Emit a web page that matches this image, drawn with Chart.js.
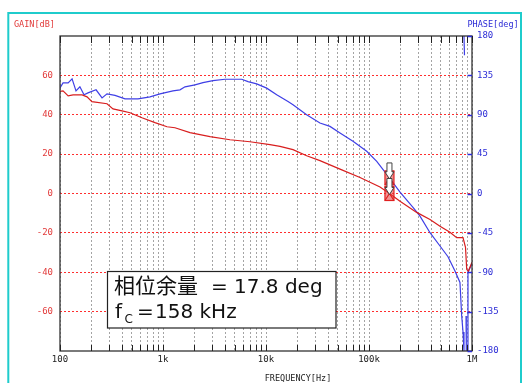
<!DOCTYPE html>
<html>
<head>
<meta charset="utf-8">
<script src="https://cdn.jsdelivr.net/npm/chart.js@4.4.1/dist/chart.umd.min.js"></script>
<style>
  html, body { margin: 0; padding: 0; background: #fff; }
  #wrap { width: 523px; height: 383px; position: relative; }
</style>
</head>
<body>
<div id="wrap"><canvas id="c" width="523" height="383"></canvas></div>
<script>
// Loop gain measurement (Bode plot): gain in dB, phase in degrees vs. frequency in Hz
const gainFreq = [100, 107, 120, 134, 164, 183, 204, 286, 327, 400,
  478, 625, 836, 1094, 1307, 1828, 2860, 4470, 6990, 10930,
  13670, 18290, 24830, 33400, 52300, 81800, 127900, 158000, 200000, 290400,
  391000, 489000, 611000, 710000, 818000, 864800, 888300, 920600, 1000000];
const gainDb = [51.9, 52.1, 49.6, 50.1, 50.1, 49.1, 46.7, 45.6, 43.0, 42.0,
  41.0, 38.5, 36.0, 33.9, 33.4, 30.9, 28.9, 27.3, 26.3, 24.8,
  23.9, 22.3, 19.2, 16.7, 12.4, 8.1, 3.3, 0, -3.9, -9.6,
  -13.2, -16.6, -19.7, -22.4, -22.4, -27.3, -38.5, -39.5, -34.9];

const phaseFreq = [100, 107, 120, 131, 143, 156, 171, 187, 224, 256,
  286, 342, 428, 572, 748, 935, 1250, 1462, 1636, 2045,
  2445, 3057, 4000, 5810, 6690, 8120, 10160, 12700, 16360, 18290,
  24800, 33400, 41800, 52300, 69900, 95000, 118900, 158000, 200000, 267400,
  312700, 391000, 489000, 584800, 683500, 764000, 794000, 818000, 836000, 836000,
  836000, 845300, 845300, 875000, 880600, 880600, 914000, 914000, 1000000];
const phaseDeg = [120.7, 126.4, 126.4, 131.0, 117.3, 121.9, 112.8, 115.0, 118.5, 109.3,
  113.9, 112.2, 108.2, 108.2, 110.5, 113.9, 117.3, 118.5, 121.9, 124.2,
  126.8, 129.0, 130.6, 130.6, 127.9, 125.3, 120.4, 112.8, 105.1, 101.4,
  90.0, 80.5, 76.7, 69.1, 59.6, 48.2, 36.8, 17.8, 1.5, -15.9,
  -25.9, -44.8, -60.0, -72.3, -88.5, -101.7, -139.8, -158.3, -180, null,
  180, 158, null, -140, -180, null, -180, -90, -80];

// Crossover readout
const crossFreq = 158000;      // Hz
const crossFreqText = '158 kHz';
const phaseMargin = 17.8;      // deg
const crossGainDb = 0;

// Axis ticks and labels
const xDecades = [100, 1000, 10000, 100000, 1000000];
const xDecadeLabels = ['100', '1k', '10k', '100k', '1M'];
const gainRange = [-80, 80];
const gainStep = 20;
const phaseRange = [-180, 180];
const phaseStep = 45;

const xTickValues = [];
for (let d = 0; d < xDecades.length - 1; d++) {
  for (let m = 1; m <= 9; m++) xTickValues.push(m * xDecades[d]);
}
xTickValues.push(xDecades[xDecades.length - 1]);

const toPoints = (xs, ys) => xs.map((x, i) => ({ x: x, y: ys[i] }));

const MONO = '"DejaVu Sans Mono", "Liberation Mono", monospace';
const RED_TXT = '#e23a3a';
const BLUE_TXT = '#2b2bd6';

const decorations = {
  id: 'decorations',
  beforeDraw(chart) {
    const c = chart.ctx;
    c.save();
    c.fillStyle = '#fff';
    c.fillRect(0, 0, chart.width, chart.height);
    c.strokeStyle = '#1fcccc';
    c.lineWidth = 2;
    c.strokeRect(8.3, 13, 512.7, 420);
    c.restore();
  },
  afterDatasetsDraw(chart) {
    const c = chart.ctx;
    const a = chart.chartArea;
    const xs = chart.scales.x, yg = chart.scales.yGain, yp = chart.scales.yPhase;
    c.save();

    // crossover markers
    const mx = xs.getPixelForValue(crossFreq);
    const marks = [yp.getPixelForValue(phaseMargin), yg.getPixelForValue(crossGainDb)];
    marks.forEach(py => {
      c.fillStyle = 'rgba(230,60,60,0.55)';
      c.fillRect(mx - 4.5, py - 7, 9, 14);
      c.strokeStyle = '#e02020';
      c.lineWidth = 1.2;
      c.strokeRect(mx - 4.5, py - 7, 9, 14);
      c.beginPath();
      c.moveTo(mx - 4.5, py - 7); c.lineTo(mx + 4.5, py + 7);
      c.moveTo(mx + 4.5, py - 7); c.lineTo(mx - 4.5, py + 7);
      c.stroke();
    });
    marks.forEach(py => {
      c.beginPath();
      c.moveTo(mx - 2.5, py - 15);
      c.lineTo(mx + 2.5, py - 15);
      c.lineTo(mx + 2.5, py - 6);
      c.lineTo(mx + 4.5, py - 6);
      c.lineTo(mx, py + 1);
      c.lineTo(mx - 4.5, py - 6);
      c.lineTo(mx - 2.5, py - 6);
      c.closePath();
      c.fillStyle = '#fff';
      c.fill();
      c.strokeStyle = '#444';
      c.lineWidth = 1;
      c.stroke();
    });

    // frame of the plot area
    c.strokeStyle = '#333';
    c.lineWidth = 1.3;
    c.strokeRect(a.left, a.top, a.right - a.left, a.bottom - a.top);

    // inner tick marks on top and bottom edges
    c.strokeStyle = '#222';
    c.lineWidth = 1;
    xs.ticks.forEach(t => {
      const px = Math.round(xs.getPixelForValue(t.value)) + 0.5;
      c.beginPath();
      c.moveTo(px, a.top); c.lineTo(px, a.top + 7);
      c.moveTo(px, a.bottom); c.lineTo(px, a.bottom - 6);
      c.stroke();
    });

    // phase ticks on the right edge
    c.strokeStyle = '#2b2bd6';
    c.lineWidth = 1.5;
    yp.ticks.forEach(t => {
      const py = Math.round(yp.getPixelForValue(t.value)) + 0.5;
      c.beginPath();
      c.moveTo(a.right - 4.5, py); c.lineTo(a.right, py);
      c.stroke();
    });

    // readout box
    c.fillStyle = '#fff';
    c.fillRect(107, 271, 229, 57);
    c.strokeStyle = '#222';
    c.lineWidth = 1.2;
    c.strokeRect(107.5, 271.5, 228.5, 56.5);

    c.fillStyle = '#111';
    c.textBaseline = 'alphabetic';
    c.textAlign = 'left';
    c.font = '21px "DejaVu Sans", "Noto Sans CJK SC", sans-serif';
    c.fillText('相位余量', 114, 293);
    c.font = '20px "DejaVu Sans", sans-serif';
    c.fillText('=', 211, 293);
    c.fillText(phaseMargin.toFixed(1) + ' deg', 234, 293);
    c.fillText('f', 115, 318);
    c.font = '12px "DejaVu Sans", sans-serif';
    c.fillText('C', 124.5, 323);
    c.font = '20px "DejaVu Sans", sans-serif';
    c.fillText('=', 137, 318);
    c.fillText(crossFreqText, 155, 318);

    c.restore();
  },
  afterDraw(chart) {
    const c = chart.ctx;
    c.save();
    c.font = '8.5px ' + MONO;
    c.textBaseline = 'middle';
    c.textAlign = 'left';
    c.fillStyle = RED_TXT;
    c.fillText('GAIN[dB]', 14, 24.5);
    c.fillStyle = BLUE_TXT;
    c.fillText('PHASE[deg]', 467.5, 24.5);
    c.fillStyle = '#222';
    c.textAlign = 'center';
    c.fillText('FREQUENCY[Hz]', 298, 378.5);
    c.restore();
  }
};

new Chart(document.getElementById('c'), {
  type: 'line',
  data: {
    datasets: [
      {
        label: 'GAIN',
        data: toPoints(gainFreq, gainDb),
        yAxisID: 'yGain',
        borderColor: '#d81e1e',
        borderWidth: 1.2,
        pointRadius: 0,
        tension: 0,
        spanGaps: false
      },
      {
        label: 'PHASE',
        data: toPoints(phaseFreq, phaseDeg),
        yAxisID: 'yPhase',
        borderColor: '#3f3fe6',
        borderWidth: 1.2,
        pointRadius: 0,
        tension: 0,
        spanGaps: false
      }
    ]
  },
  options: {
    responsive: false,
    animation: false,
    devicePixelRatio: 1,
    layout: { padding: { top: 36, left: 0, right: 0, bottom: 0 } },
    plugins: { legend: { display: false }, tooltip: { enabled: false } },
    scales: {
      x: {
        type: 'logarithmic',
        min: xDecades[0],
        max: xDecades[xDecades.length - 1],
        afterBuildTicks(scale) { scale.ticks = xTickValues.map(v => ({ value: v })); },
        afterFit(scale) { scale.height = 32; },
        ticks: {
          autoSkip: false,
          maxRotation: 0,
          padding: 3,
          color: '#222',
          font: { family: MONO, size: 9 },
          callback(v) {
            const i = xDecades.indexOf(v);
            return i >= 0 ? xDecadeLabels[i] : '';
          }
        },
        grid: { color: '#a4a4a4', lineWidth: 1, drawTicks: false },
        border: { display: false, dash: [2, 2] }
      },
      yGain: {
        position: 'left',
        min: gainRange[0],
        max: gainRange[1],
        afterFit(scale) { scale.width = 60; },
        ticks: {
          stepSize: gainStep,
          padding: 7,
          color: RED_TXT,
          font: { family: MONO, size: 9 },
          callback(v) { return (v === gainRange[0] || v === gainRange[1]) ? '' : String(v); }
        },
        grid: {
          drawTicks: false,
          lineWidth: 1,
          color(ctx) {
            const v = ctx.tick && ctx.tick.value;
            return (v === gainRange[0] || v === gainRange[1]) ? 'rgba(0,0,0,0)' : '#ff2e2e';
          }
        },
        border: { display: false, dash: [2, 2] }
      },
      yPhase: {
        position: 'right',
        min: phaseRange[0],
        max: phaseRange[1],
        afterFit(scale) { scale.width = 51; },
        ticks: {
          stepSize: phaseStep,
          padding: 5,
          color: BLUE_TXT,
          font: { family: MONO, size: 9 }
        },
        grid: { display: false, drawTicks: false },
        border: { display: false }
      }
    }
  },
  plugins: [decorations]
});
</script>
</body>
</html>
